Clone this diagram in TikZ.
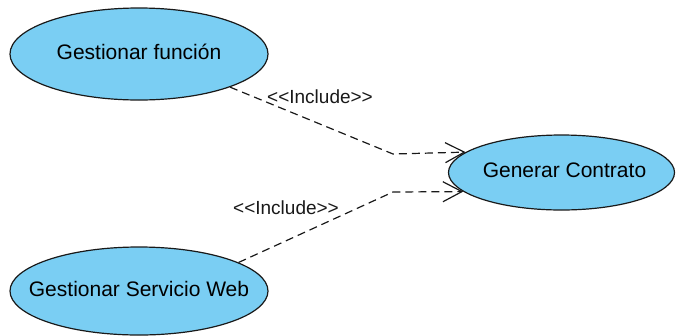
\documentclass[tikz,border=0pt]{standalone}
\usepackage{fontspec}
\setmainfont{Liberation Sans}
\usetikzlibrary{shapes.geometric,arrows.meta}
\definecolor{ucfill}{RGB}{122,206,243}
\definecolor{ucline}{RGB}{25,25,25}
\tikzset{
  usecase/.style={ellipse, draw=ucline, line width=1.2pt, fill=ucfill,
    inner sep=0pt, text height=1em, text depth=0pt,
    font=\fontsize{21}{24}\selectfont},
  include/.style={draw=ucline, line width=1.2pt, dash pattern=on 8pt off 5pt,
    -{Straight Barb[length=19pt,width=20pt,line width=1.2pt]}},
  stereo/.style={font=\fontsize{19}{22}\selectfont, text=ucline, inner sep=0pt}
}
% text of a use case, kept from widening its ellipse
\newcommand{\uctext}[1]{\makebox[0pt]{#1}}
\begin{document}
\begin{tikzpicture}[x=1pt,y=-1pt]
  \useasboundingbox (0,0) rectangle (676,335);

  % use cases
  \node[usecase, minimum width=258pt, minimum height=92pt] (gf) at (139,54)
    {\uctext{Gestionar función}};
  \node[usecase, minimum width=226pt, minimum height=75pt] (gc) at (561.5,172.5)
    {\uctext{\hspace{6pt}Generar Contrato}};
  \node[usecase, minimum width=258pt, minimum height=88pt] (gs) at (139,291)
    {\uctext{Gestionar Servicio Web}};

  % bend points of the include relations
  \coordinate (b1) at (393,154);
  \coordinate (b2) at (393,192);

  % include relations
  \draw[include] (gf.-20) -- (b1) -- (gc.168.5);
  \draw[include] (gs.16) -- (b2) -- (gc.191);

  % stereotype labels
  \node[stereo] (l1) at (320,97) {<{}<Include>{}>};
  \node[stereo] (l2) at (286,208) {<{}<Include>{}>};
\end{tikzpicture}
\end{document}
